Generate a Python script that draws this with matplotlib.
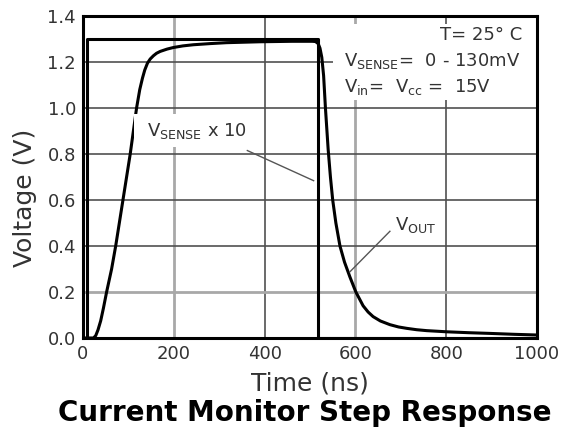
import matplotlib.pyplot as plt
from matplotlib.patches import Rectangle

# V_OUT trace (ns, V)
t_out = [0, 23, 28, 33, 39, 45, 52, 63, 72, 80, 88, 96, 104, 111, 118, 125, 131, 136, 142, 148,
         155, 162, 170, 185, 199, 220, 243, 280, 316, 390, 460, 505, 512, 518, 522, 526, 530, 534,
         540, 545, 550, 557, 566, 576, 588, 601, 617, 628, 639, 655, 676, 695, 713, 735, 757, 801,
         850, 896, 950, 1000]
v_out = [0, 0, 0.01, 0.035, 0.075, 0.13, 0.2, 0.3, 0.4, 0.5, 0.6, 0.7, 0.8, 0.9, 1.0, 1.08, 1.13, 1.165, 1.195, 1.213,
         1.227, 1.238, 1.246, 1.256, 1.263, 1.27, 1.275, 1.28, 1.284, 1.288, 1.29, 1.29, 1.289, 1.28, 1.26, 1.22, 1.14, 1.0,
         0.82, 0.7, 0.6, 0.5, 0.4, 0.33, 0.265, 0.2, 0.14, 0.113, 0.093, 0.074, 0.058, 0.048, 0.042, 0.036, 0.032, 0.027,
         0.023, 0.02, 0.016, 0.013]

# V_SENSE x 10 trace
t_sense = [0, 8, 8, 518, 518, 1000]
v_sense = [0, 0, 1.3, 1.3, 0, 0]

x_ticks = [0, 200, 400, 600, 800, 1000]
y_ticks = [0.0, 0.2, 0.4, 0.6, 0.8, 1.0, 1.2, 1.4]

fig = plt.figure(figsize=(5.69, 4.34), dpi=100)
ax = fig.add_axes([83 / 569, 1 - 338 / 434, 454 / 569, 322 / 434])

# grid lines (scan blur makes some look lighter)
for x in [200, 600]:
    ax.axvline(x, color='#a8a8a8', lw=2.0, zorder=1)
for x in [400, 800]:
    ax.axvline(x, color='#505050', lw=1.2, zorder=1)
for y in [0.2]:
    ax.axhline(y, color='#a8a8a8', lw=2.0, zorder=1)
for y in [0.4, 0.6, 0.8, 1.0, 1.2]:
    ax.axhline(y, color='#505050', lw=1.2, zorder=1)

ax.plot(t_sense, v_sense, color='black', lw=2.2, zorder=2)
ax.plot(t_out, v_out, color='black', lw=2.2, zorder=2)

ax.set_xlim(0, 1000)
ax.set_ylim(0, 1.4)
ax.set_xticks(x_ticks)
ax.set_yticks(y_ticks)
ax.set_xticklabels([str(x) for x in x_ticks])
ax.set_yticklabels([f'{y:.1f}' for y in y_ticks])
ax.tick_params(length=0, labelsize=13, labelcolor='#333333', pad=5)
for s in ax.spines.values():
    s.set_linewidth(2.2)
    s.set_zorder(5)

fig.text(310 / 569, 1 - 384 / 434, 'Time (ns)', fontsize=18, color='#333333', ha='center', va='center')
fig.text(25 / 569, 1 - 198 / 434, 'Voltage (V)', fontsize=18, color='#333333', ha='center', va='center',
         rotation=90)
fig.text(305 / 569, 1 - 413 / 434, 'Current Monitor Step Response', fontsize=20, fontweight='bold',
         ha='center', va='center')

# white areas behind the notes
ax.add_patch(Rectangle((550, 1.035), 450, 0.33, facecolor='white', edgecolor='none', zorder=3))
ax.add_patch(Rectangle((112, 0.83), 283, 0.145, facecolor='white', edgecolor='none', zorder=3))

ax.text(0.967, 0.94, 'T= 25° C', transform=ax.transAxes, ha='right', va='center',
        fontsize=13, color='#333333', zorder=4)
ax.text(0.575, 0.86, r'V$_{\mathregular{SENSE}}$=  0 - 130mV', transform=ax.transAxes,
        ha='left', va='center', fontsize=13, color='#333333', zorder=4)
ax.text(0.575, 0.78, r'V$_{\mathregular{in}}$=  V$_{\mathregular{cc}}$ =  15V', transform=ax.transAxes,
        ha='left', va='center', fontsize=13, color='#333333', zorder=4)

ax.text(140, 0.90, r'V$_{\mathregular{SENSE}}$ x 10', fontsize=13, color='#333333',
        va='center', ha='left', zorder=4)
ax.plot([362, 508], [0.815, 0.684], color='#555555', lw=1, zorder=4)
ax.text(687, 0.49, r'V$_{\mathregular{OUT}}$', fontsize=13, color='#333333',
        va='center', ha='left', zorder=4)
ax.plot([676, 588], [0.464, 0.288], color='#555555', lw=1, zorder=4)

fig.savefig('out.png', dpi=100)
